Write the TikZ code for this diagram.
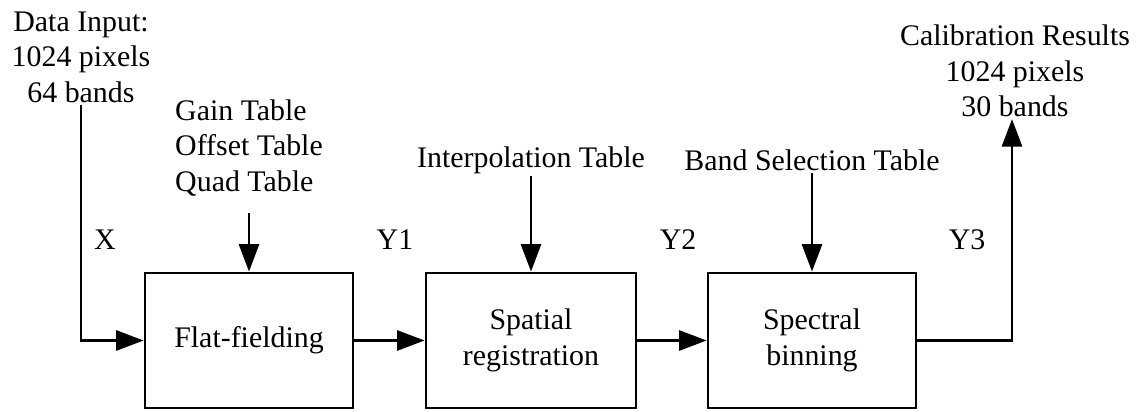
\documentclass[tikz,border=0pt]{standalone}
\usepackage{fontspec}
\setmainfont{Liberation Serif}
\usetikzlibrary{arrows.meta,positioning}

\tikzset{
    block/.style={draw, line width=1.6pt, minimum width=4.16cm, minimum height=2.7cm, align=center, inner sep=0pt},
    flow/.style={line width=1.6pt, -{Triangle[length=0.55cm,width=0.4cm]}},
    txt/.style={align=center, inner sep=1pt}
}

\begin{document}
\begin{tikzpicture}[font=\fontsize{17}{20.2}\selectfont]

    \useasboundingbox (0,0) rectangle (22.72,8.22);

    % processing blocks
    \node [block] (flat) at (4.98,1.41) {Flat-fielding};
    \node [block, minimum width=4.2cm] (spatial) at (10.62,1.41) {Spatial\\registration};
    \node [block] (spec) at (16.24,1.41) {Spectral\\binning};

    % inputs and outputs
    \node [txt] (datain) at (1.62,7.08) {Data Input:\\1024 pixels\\64 bands};
    \node [txt, align=left] (tables) at (4.98,5.26) {Gain Table\\Offset Table\\Quad Table};
    \node [txt] (interp) at (10.62,5.02) {Interpolation Table};
    \node [txt] (bandsel) at (16.24,5.02) {Band Selection Table};
    \node [txt] (calres) at (20.3,6.8) {Calibration Results\\1024 pixels\\30 bands};
    \coordinate (turn) at (20.24,1.41);

    % signal names
    \node at (2.1,3.42) {X};
    \node at (7.9,3.42) {Y1};
    \node at (13.56,3.42) {Y2};
    \node at (19.34,3.42) {Y3};

    % connectors
    \draw [flow] (datain.south) -- (datain.south |- flat.west) -- (flat.west);
    \draw [flow] (flat.east) -- (spatial.west);
    \draw [flow] (spatial.east) -- (spec.west);
    \draw [flow] (spec.east) -- (turn) -- (turn |- calres.south);
    \draw [flow] ([yshift=-0.3cm]tables.south) -- (flat.north);
    \draw [flow] (interp.south) -- (spatial.north);
    \draw [flow] (bandsel.south) -- (spec.north);

\end{tikzpicture}
\end{document}
